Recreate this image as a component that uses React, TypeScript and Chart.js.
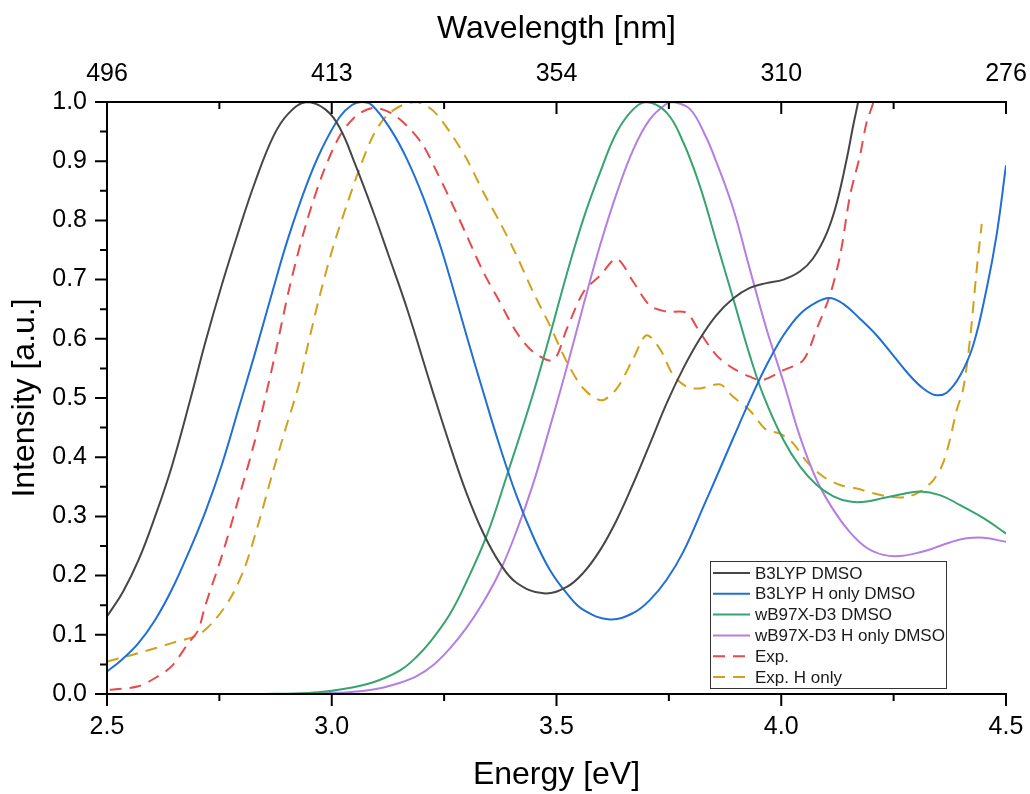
import { useEffect, useRef } from 'react';
import { Chart, registerables } from 'chart.js';

Chart.register(...registerables);

const FONT = '"Liberation Sans", Arial, Helvetica, sans-serif';

// ---- Data (Energy in eV, normalized intensity) ----
const b3lypE = [2.50, 2.535, 2.57, 2.607, 2.644, 2.688, 2.718, 2.755, 2.792, 2.829, 2.87, 2.903, 2.944, 2.985, 3.018, 3.052, 3.092, 3.126, 3.167, 3.225, 3.263, 3.30, 3.337, 3.374, 3.411, 3.471, 3.523, 3.56, 3.597, 3.634, 3.671, 3.708, 3.745, 3.782, 3.819, 3.856, 3.893, 3.93, 3.967, 4.005, 4.042, 4.071, 4.101, 4.123, 4.146, 4.16, 4.171, 4.19];
const b3lypI = [0.131, 0.172, 0.226, 0.30, 0.384, 0.505, 0.592, 0.69, 0.78, 0.864, 0.942, 0.980, 1.0, 0.988, 0.956, 0.895, 0.815, 0.742, 0.652, 0.51, 0.42, 0.339, 0.272, 0.221, 0.188, 0.170, 0.181, 0.205, 0.243, 0.294, 0.356, 0.423, 0.491, 0.55, 0.60, 0.64, 0.668, 0.686, 0.694, 0.70, 0.714, 0.736, 0.778, 0.828, 0.905, 0.96, 1.0, 1.08];

const b3lypHE = [2.50, 2.533, 2.57, 2.607, 2.644, 2.681, 2.718, 2.755, 2.792, 2.829, 2.87, 2.903, 2.944, 2.978, 3.018, 3.045, 3.067, 3.089, 3.13, 3.167, 3.204, 3.241, 3.263, 3.30, 3.337, 3.374, 3.411, 3.448, 3.485, 3.523, 3.56, 3.619, 3.671, 3.708, 3.745, 3.782, 3.83, 3.856, 3.893, 3.93, 3.967, 4.005, 4.042, 4.079, 4.108, 4.138, 4.175, 4.212, 4.249, 4.286, 4.316, 4.342, 4.368, 4.398, 4.427, 4.457, 4.479, 4.50];
const b3lypHI = [0.038, 0.058, 0.086, 0.125, 0.176, 0.238, 0.306, 0.386, 0.48, 0.575, 0.685, 0.77, 0.86, 0.921, 0.975, 0.995, 1.0, 0.995, 0.955, 0.904, 0.838, 0.758, 0.703, 0.605, 0.51, 0.418, 0.335, 0.266, 0.21, 0.17, 0.142, 0.126, 0.137, 0.159, 0.193, 0.24, 0.322, 0.367, 0.432, 0.496, 0.555, 0.606, 0.642, 0.662, 0.669, 0.659, 0.634, 0.606, 0.572, 0.538, 0.516, 0.505, 0.509, 0.538, 0.589, 0.685, 0.775, 0.893];

const wbE = [2.85, 2.92, 2.97, 3.015, 3.089, 3.152, 3.189, 3.226, 3.263, 3.30, 3.346, 3.39, 3.445, 3.485, 3.523, 3.56, 3.597, 3.634, 3.671, 3.70, 3.745, 3.782, 3.819, 3.856, 3.893, 3.93, 3.96, 4.005, 4.042, 4.079, 4.116, 4.153, 4.19, 4.227, 4.264, 4.309, 4.353, 4.398, 4.45, 4.50];
const wbI = [0.0, 0.001, 0.003, 0.007, 0.019, 0.04, 0.063, 0.095, 0.135, 0.19, 0.27, 0.37, 0.50, 0.605, 0.71, 0.803, 0.881, 0.949, 0.988, 1.0, 0.982, 0.932, 0.858, 0.763, 0.668, 0.572, 0.505, 0.429, 0.384, 0.353, 0.334, 0.325, 0.325, 0.331, 0.337, 0.342, 0.336, 0.319, 0.297, 0.271];

const wbHE = [2.90, 2.96, 3.015, 3.089, 3.152, 3.189, 3.226, 3.263, 3.30, 3.337, 3.374, 3.411, 3.448, 3.485, 3.523, 3.56, 3.597, 3.634, 3.671, 3.708, 3.745, 3.76, 3.797, 3.83, 3.856, 3.893, 3.93, 3.967, 4.005, 4.042, 4.079, 4.116, 4.153, 4.19, 4.227, 4.264, 4.301, 4.338, 4.375, 4.412, 4.45, 4.50];
const wbHI = [0.0, 0.001, 0.002, 0.007, 0.019, 0.03, 0.049, 0.077, 0.112, 0.155, 0.207, 0.275, 0.355, 0.45, 0.552, 0.657, 0.758, 0.846, 0.92, 0.971, 0.997, 1.0, 0.988, 0.945, 0.898, 0.82, 0.718, 0.617, 0.527, 0.434, 0.361, 0.311, 0.273, 0.247, 0.235, 0.233, 0.238, 0.246, 0.256, 0.263, 0.264, 0.257];

const expE = [2.506, 2.533, 2.57, 2.607, 2.644, 2.681, 2.703, 2.718, 2.755, 2.792, 2.829, 2.87, 2.907, 2.944, 2.981, 3.018, 3.055, 3.092, 3.13, 3.167, 3.204, 3.233, 3.263, 3.30, 3.337, 3.374, 3.411, 3.448, 3.493, 3.523, 3.56, 3.597, 3.634, 3.671, 3.708, 3.745, 3.789, 3.819, 3.856, 3.893, 3.93, 3.957, 4.005, 4.049, 4.079, 4.108, 4.131, 4.153, 4.175, 4.19, 4.205, 4.22];
const expI = [0.007, 0.009, 0.013, 0.027, 0.047, 0.086, 0.108, 0.148, 0.232, 0.328, 0.428, 0.56, 0.69, 0.797, 0.881, 0.943, 0.977, 0.99, 0.982, 0.96, 0.926, 0.883, 0.836, 0.775, 0.713, 0.662, 0.611, 0.578, 0.564, 0.617, 0.679, 0.707, 0.735, 0.696, 0.656, 0.646, 0.644, 0.611, 0.572, 0.55, 0.536, 0.53, 0.547, 0.564, 0.617, 0.673, 0.741, 0.842, 0.909, 0.966, 1.0, 1.06];

const expHE = [2.50, 2.57, 2.644, 2.703, 2.74, 2.777, 2.807, 2.837, 2.866, 2.896, 2.926, 2.944, 2.974, 3.003, 3.033, 3.063, 3.092, 3.122, 3.158, 3.19, 3.226, 3.263, 3.30, 3.337, 3.374, 3.411, 3.448, 3.485, 3.523, 3.56, 3.60, 3.634, 3.671, 3.70, 3.73, 3.76, 3.79, 3.819, 3.864, 3.893, 3.93, 3.967, 3.997, 4.027, 4.057, 4.094, 4.131, 4.168, 4.205, 4.242, 4.279, 4.309, 4.338, 4.36, 4.375, 4.39, 4.405, 4.42, 4.435, 4.446];
const expHI = [0.055, 0.069, 0.086, 0.10, 0.125, 0.165, 0.215, 0.288, 0.367, 0.445, 0.52, 0.58, 0.675, 0.755, 0.825, 0.89, 0.943, 0.977, 0.995, 1.0, 0.985, 0.949, 0.904, 0.848, 0.797, 0.741, 0.679, 0.623, 0.561, 0.516, 0.496, 0.516, 0.567, 0.606, 0.583, 0.538, 0.519, 0.516, 0.523, 0.502, 0.479, 0.446, 0.44, 0.423, 0.392, 0.367, 0.353, 0.347, 0.339, 0.333, 0.333, 0.342, 0.361, 0.39, 0.429, 0.479, 0.516, 0.60, 0.718, 0.794];

const seriesLabels = ['B3LYP DMSO', 'B3LYP H only DMSO', 'wB97X-D3 DMSO', 'wB97X-D3 H only DMSO', 'Exp.', 'Exp. H only'];

// ---- Axis ticks ----
const energyMajorTicks = [2.5, 3.0, 3.5, 4.0, 4.5];
const energyMinorTicks = [2.75, 3.25, 3.75, 4.25];
const wavelengthLabels = ['496', '413', '354', '310', '276'];
const intensityMajorTicks = [0, 0.1, 0.2, 0.3, 0.4, 0.5, 0.6, 0.7, 0.8, 0.9, 1.0];
const intensityMinorTicks = [0.05, 0.15, 0.25, 0.35, 0.45, 0.55, 0.65, 0.75, 0.85, 0.95];

const pts = (xs: number[], ys: number[]) => xs.map((x, i) => ({ x, y: ys[i] }));

const axesPlugin = {
  id: 'originAxes',
  afterDraw(chart: any) {
    const { ctx, chartArea } = chart;
    const { left, right, top, bottom } = chartArea;
    const sx = chart.scales.x;
    const sy = chart.scales.y;
    const MAJ = 12;
    const MIN = 7;
    ctx.save();
    ctx.strokeStyle = '#000';
    ctx.lineWidth = 2;
    ctx.lineCap = 'butt';
    ctx.beginPath();
    ctx.moveTo(left, top - 1);
    ctx.lineTo(left, bottom + 1);
    ctx.moveTo(left - 1, bottom);
    ctx.lineTo(right + 1, bottom);
    ctx.moveTo(left - 1, top);
    ctx.lineTo(right + 1, top);
    energyMajorTicks.forEach((v) => {
      const px = sx.getPixelForValue(v);
      ctx.moveTo(px, bottom);
      ctx.lineTo(px, bottom + MAJ);
      ctx.moveTo(px, top);
      ctx.lineTo(px, top + MAJ);
    });
    energyMinorTicks.forEach((v) => {
      const px = sx.getPixelForValue(v);
      ctx.moveTo(px, bottom);
      ctx.lineTo(px, bottom + MIN);
      ctx.moveTo(px, top);
      ctx.lineTo(px, top + MIN);
    });
    intensityMajorTicks.forEach((v) => {
      const py = sy.getPixelForValue(v);
      ctx.moveTo(left, py);
      ctx.lineTo(left - MAJ, py);
    });
    intensityMinorTicks.forEach((v) => {
      const py = sy.getPixelForValue(v);
      ctx.moveTo(left, py);
      ctx.lineTo(left - MIN, py);
    });
    ctx.stroke();
    ctx.restore();
  },
};

const legendPlugin = {
  id: 'boxLegend',
  afterDraw(chart: any) {
    const { ctx, chartArea } = chart;
    const w = 236;
    const h = 127;
    const x0 = Math.round(chartArea.right - 60 - w);
    const y0 = Math.round(chartArea.bottom - 6 - h);
    ctx.save();
    ctx.fillStyle = '#fff';
    ctx.fillRect(x0, y0, w, h);
    ctx.strokeStyle = '#333';
    ctx.lineWidth = 1;
    ctx.strokeRect(x0 + 0.5, y0 + 0.5, w, h);
    const rowH = 20.8;
    chart.data.datasets.forEach((ds: any, i: number) => {
      const cy = y0 + 12 + i * rowH;
      ctx.strokeStyle = ds.borderColor;
      ctx.lineWidth = 2;
      ctx.setLineDash(ds.borderDash || []);
      ctx.beginPath();
      ctx.moveTo(x0 + 3, cy);
      ctx.lineTo(x0 + 40, cy);
      ctx.stroke();
      ctx.setLineDash([]);
      ctx.fillStyle = '#1a1a1a';
      ctx.font = `17px ${FONT}`;
      ctx.textBaseline = 'middle';
      ctx.textAlign = 'left';
      ctx.fillText(ds.label, x0 + 45, cy + 1);
    });
    ctx.restore();
  },
};

export default function App() {
  const ref = useRef<HTMLCanvasElement>(null);

  useEffect(() => {
    const canvas = ref.current;
    if (!canvas) return;
    const colors = ['#464646', '#1f6fd6', '#35a46e', '#b47ee2', '#e84a4a', '#d2a01a'];
    const dashes = [[], [], [], [], [12, 8], [12, 8]];
    const tensions = [0.4, 0.4, 0.4, 0.4, 0.3, 0.3];
    const series = [
      pts(b3lypE, b3lypI),
      pts(b3lypHE, b3lypHI),
      pts(wbE, wbI),
      pts(wbHE, wbHI),
      pts(expE, expI),
      pts(expHE, expHI),
    ];
    const tickFont = { family: FONT, size: 25 };
    const titleFont = { family: FONT, size: 32 };
    const noHPad = (s: any) => {
      s.paddingLeft = 0;
      s.paddingRight = 0;
    };
    const chart = new Chart(canvas, {
      type: 'line',
      data: {
        datasets: series.map((d, i) => ({
          label: seriesLabels[i],
          data: d,
          borderColor: colors[i],
          backgroundColor: colors[i],
          borderWidth: 2,
          borderDash: dashes[i],
          pointRadius: 0,
          fill: false,
          tension: tensions[i],
          xAxisID: 'x',
          yAxisID: 'y',
        })),
      },
      options: {
        responsive: false,
        animation: false,
        devicePixelRatio: 1,
        layout: { padding: { left: 0, right: 24, top: 0, bottom: 0 } },
        plugins: {
          legend: { display: false },
          tooltip: { enabled: false },
        },
        scales: {
          x: {
            type: 'linear',
            position: 'bottom',
            min: 2.5,
            max: 4.5,
            grid: { display: false, drawTicks: false, tickLength: 0 },
            border: { display: false },
            ticks: {
              stepSize: 0.5,
              autoSkip: false,
              maxRotation: 0,
              padding: 18,
              color: '#000',
              font: tickFont,
              callback: (v: any) => Number(v).toFixed(1),
            },
            title: {
              display: true,
              text: 'Energy [eV]',
              color: '#000',
              font: titleFont,
              padding: { top: 0, bottom: 0 },
            },
            afterFit: (s: any) => {
              s.height = 100;
              noHPad(s);
            },
          },
          x2: {
            type: 'linear',
            position: 'top',
            min: 2.5,
            max: 4.5,
            grid: { display: false, drawTicks: false, tickLength: 0 },
            border: { display: false },
            ticks: {
              stepSize: 0.5,
              autoSkip: false,
              maxRotation: 0,
              padding: 13,
              color: '#000',
              font: tickFont,
              callback: (v: any) => {
                const idx = energyMajorTicks.findIndex((t) => Math.abs(t - Number(v)) < 1e-6);
                return idx >= 0 ? wavelengthLabels[idx] : '';
              },
            },
            title: {
              display: true,
              text: 'Wavelength [nm]',
              color: '#000',
              font: titleFont,
              padding: { top: 10, bottom: 0 },
            },
            afterFit: (s: any) => {
              s.height = 102;
              noHPad(s);
            },
          },
          y: {
            type: 'linear',
            position: 'left',
            min: 0,
            max: 1,
            grid: { display: false, drawTicks: false, tickLength: 0 },
            border: { display: false },
            ticks: {
              stepSize: 0.1,
              autoSkip: false,
              padding: 20,
              color: '#000',
              font: tickFont,
              callback: (v: any) => Number(v).toFixed(1),
            },
            title: {
              display: true,
              text: 'Intensity [a.u.]',
              color: '#000',
              font: titleFont,
              padding: { top: 6, bottom: 0 },
            },
            afterFit: (s: any) => {
              s.width = 107;
              s.paddingTop = 0;
              s.paddingBottom = 0;
            },
          },
        },
      } as any,
      plugins: [axesPlugin, legendPlugin],
    });
    return () => chart.destroy();
  }, []);

  return (
    <div style={{ position: 'fixed', left: 0, top: 0, width: 1030, height: 794, background: '#fff' }}>
      <canvas ref={ref} width={1030} height={794} style={{ display: 'block', width: 1030, height: 794 }} />
    </div>
  );
}
